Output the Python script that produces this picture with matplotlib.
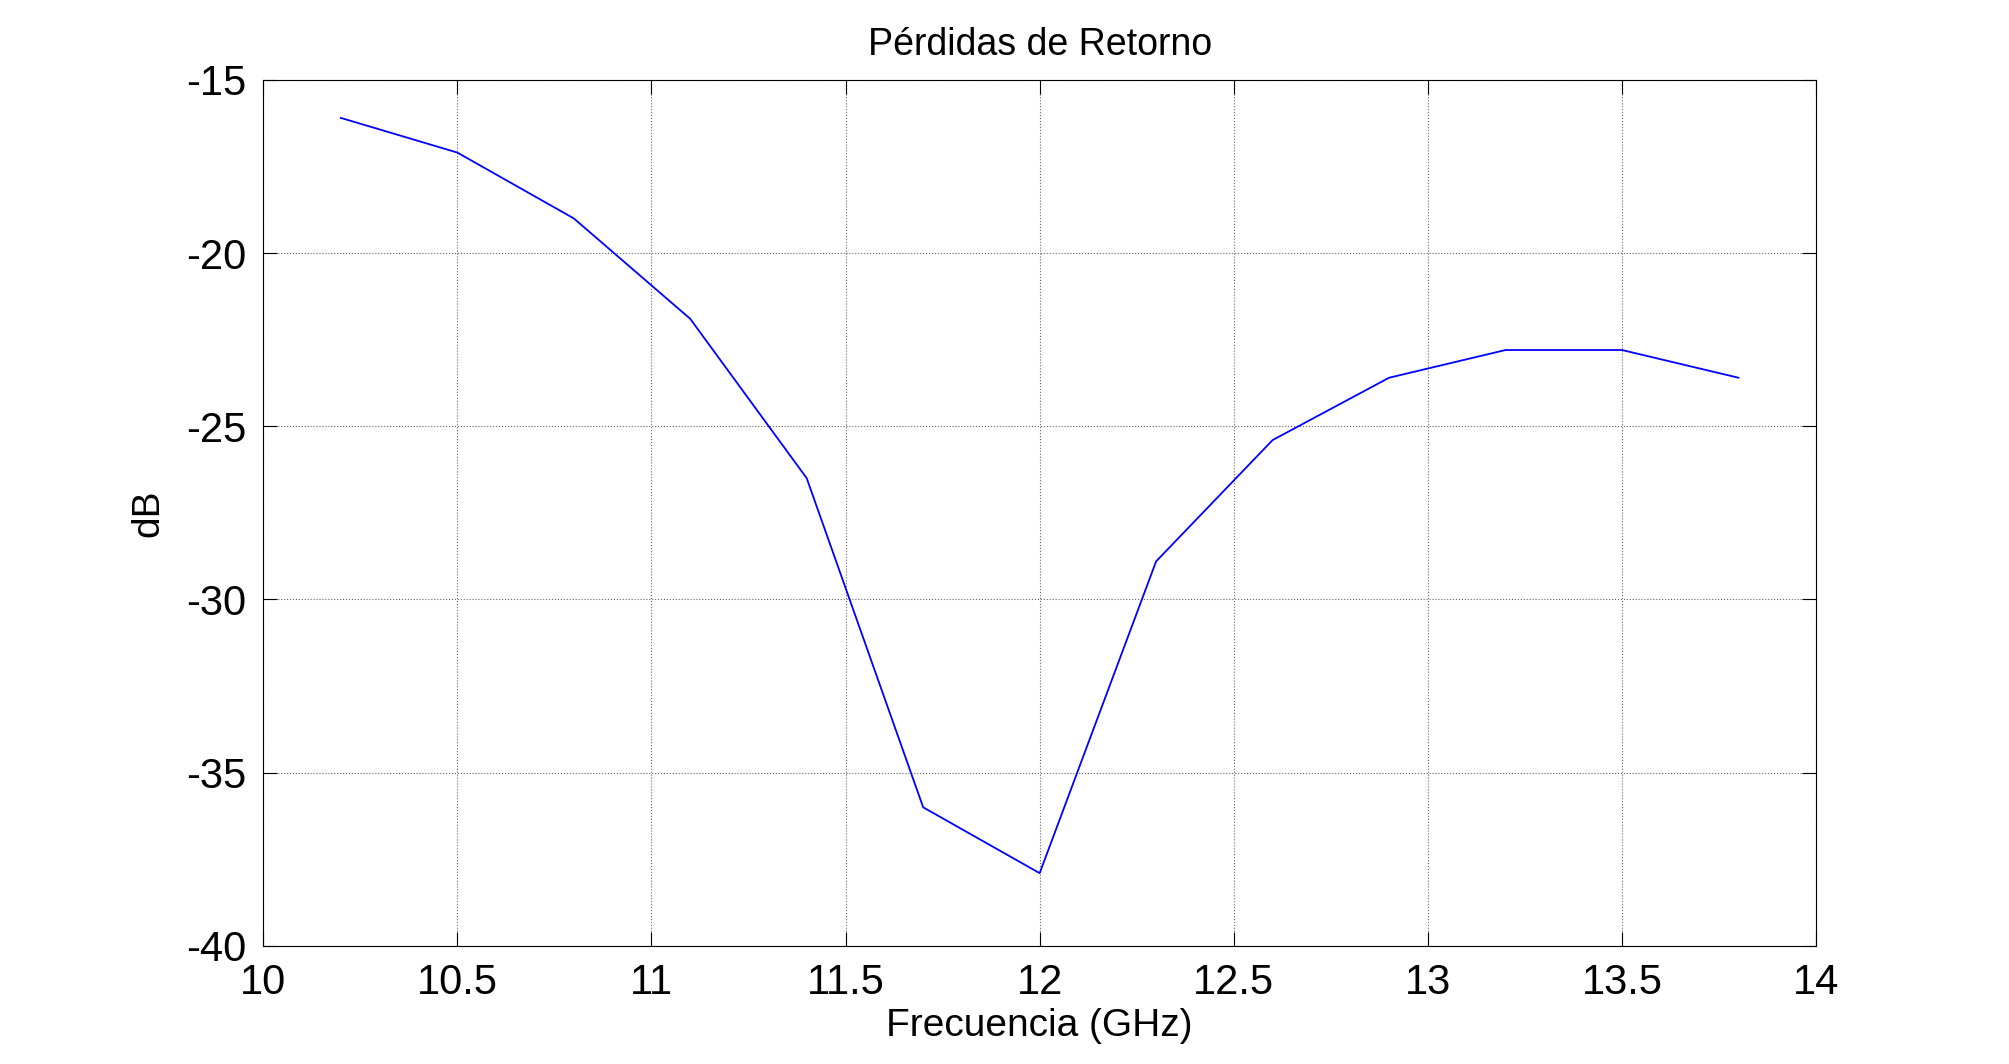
import matplotlib
matplotlib.use("Agg")
import matplotlib.pyplot as plt

freq = [10.2, 10.5, 10.8, 11.1, 11.4, 11.7, 12.0, 12.3, 12.6, 12.9, 13.2, 13.5, 13.8]
db = [-16.1, -17.1, -19.0, -21.9, -26.5, -36.0, -37.9, -28.9, -25.4, -23.6, -22.8, -22.8, -23.6]

plt.rcParams["font.family"] = ["Liberation Sans", "DejaVu Sans"]
plt.rcParams["axes.unicode_minus"] = False

fig = plt.figure(figsize=(20.09, 10.64), dpi=100)
ax = fig.add_axes([0.131, 0.111, 0.773, 0.814])
ax.plot(freq, db, color="blue", linewidth=1.3)
ax.set_xlim(10, 14)
ax.set_ylim(-40, -15)
ax.set_xticks([10, 10.5, 11, 11.5, 12, 12.5, 13, 13.5, 14])
ax.set_xticklabels(["10", "10.5", "11", "11.5", "12", "12.5", "13", "13.5", "14"])
ax.set_yticks([-40, -35, -30, -25, -20, -15])
ax.grid(True, color="black", linestyle=":", linewidth=0.8, alpha=0.6)
ax.tick_params(direction="in", top=True, right=True, labelsize=30, length=10, pad=12)
ax.set_title("Pérdidas de Retorno", fontsize=27, pad=18)
ax.set_xlabel("Frecuencia (GHz)", fontsize=28, labelpad=4)
ax.set_ylabel("dB", fontsize=28, labelpad=14)
fig.savefig("out.png", dpi=100)
plt.close(fig)
